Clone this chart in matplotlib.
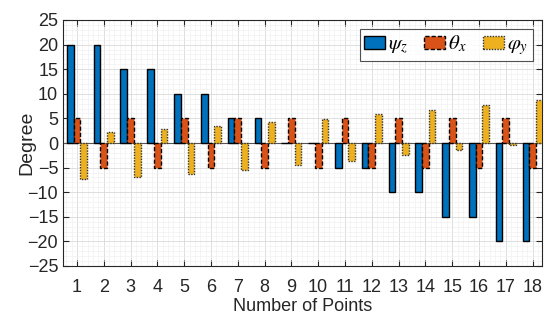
import numpy as np
import matplotlib
matplotlib.use("Agg")
import matplotlib.pyplot as plt
from matplotlib.ticker import MultipleLocator

points = list(range(1, 19))
psi_z = [20, 20, 15, 15, 10, 10, 5, 5, 0, 0, -5, -5, -10, -10, -15, -15, -20, -20]
theta_x = [5, -5, 5, -5, 5, -5, 5, -5, 5, -5, 5, -5, 5, -5, 5, -5, 5, -5]
phi_y = [-7.4, 2.2, -6.9, 2.8, -6.2, 3.4, -5.4, 4.2, -4.4, 4.9, -3.6, 5.8, -2.5, 6.8, -1.4, 7.8, -0.5, 8.8]
labels = [r'$\psi_z$', r'$\theta_x$', r'$\varphi_y$']

plt.rcParams['font.family'] = ['Liberation Sans', 'DejaVu Sans']
plt.rcParams['mathtext.fontset'] = 'stix'

fig = plt.figure(figsize=(5.45, 3.2), dpi=100)
ax = fig.add_axes([63/545, 1 - 266/320, (542 - 63)/545, (266 - 20)/320])

x = np.array(points, dtype=float)
w = 0.25
ax.bar(x - w, psi_z, width=w, color='#0072BD', edgecolor='black', linewidth=1.0,
       linestyle='-', label=labels[0], zorder=3)
ax.bar(x, theta_x, width=w, color='#D95319', edgecolor='black', linewidth=1.0,
       linestyle=(0, (3, 1.5)), label=labels[1], zorder=3)
ax.bar(x + w, phi_y, width=w, color='#EDB120', edgecolor='#333333', linewidth=1.0,
       linestyle=(0, (1, 1)), label=labels[2], zorder=3)

ax.axhline(0, color='#555555', linewidth=0.8, zorder=2)

ax.set_xlim(0.48, 18.35)
ax.set_ylim(-25, 25)
ax.set_xticks(points)
ax.set_yticks(np.arange(-25, 26, 5))
ax.xaxis.set_minor_locator(MultipleLocator(0.2))
ax.yaxis.set_minor_locator(MultipleLocator(1))
ax.grid(True, which='major', color='#d9d9d9', linewidth=0.6, zorder=0)
ax.grid(True, which='minor', color='#eeeeee', linewidth=0.4, zorder=0)
ax.set_axisbelow(True)
ax.tick_params(which='both', direction='in', top=True, right=True, labelsize=13,
               colors='#262626', length=4)
ax.tick_params(axis='x', pad=9)
ax.tick_params(which='minor', length=0)
for s in ax.spines.values():
    s.set_color('#262626')
    s.set_linewidth(0.8)

ax.set_xlabel('Number of Points', fontsize=13, color='#262626', labelpad=2)
ax.set_ylabel('Degree', fontsize=14, color='#262626', labelpad=-6)

leg = ax.legend(loc='upper right', ncol=3, fontsize=15, frameon=True, fancybox=False,
                edgecolor='#262626', handlelength=1.0, handleheight=0.6,
                handletextpad=0.15, columnspacing=0.8, borderpad=0.2,
                borderaxespad=0.45)
leg.get_frame().set_linewidth(0.8)

fig.savefig('out.png', dpi=100)
